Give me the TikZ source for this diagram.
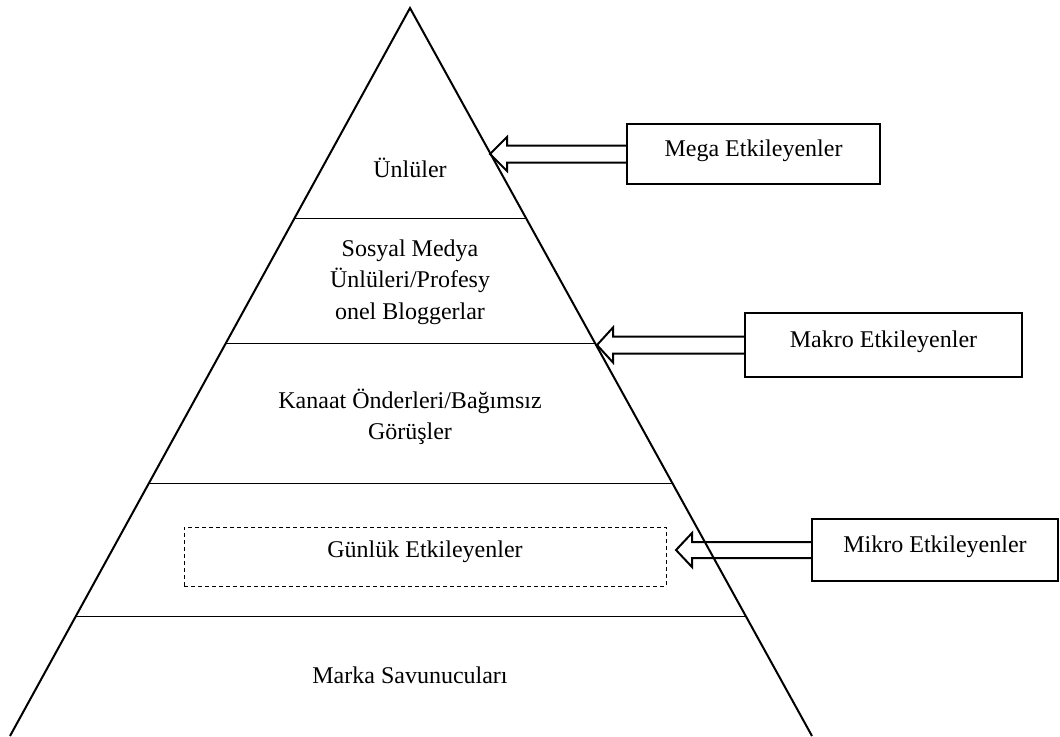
\documentclass[tikz,border=0pt]{standalone}
\usepackage{fontspec}
\setmainfont{Liberation Serif}
\usetikzlibrary{calc}
\tikzset{
  sidebox/.style={draw,line width=1pt,minimum width=#1,minimum height=31pt,text height=8pt,text depth=6pt,inner sep=0pt},
  blockarrow/.style={line width=1pt,line join=miter},
  layer/.style={line width=0.5pt},
  txt/.style={align=center,font=\fontsize{12}{15.75}\selectfont}
}
\begin{document}
\begin{tikzpicture}[x=0.5pt,y=-0.5pt,font=\fontsize{12}{15.75}\selectfont]
\useasboundingbox(0,0)rectangle(1060,736);
% pyramid
\coordinate(top)at(410,8);\coordinate(bl)at(10,736);\coordinate(br)at(812,736);
\draw[line width=1pt](bl)--(top)--(br);
\draw[layer]($(top)!.2885!(bl)$)--($(top)!.2885!(br)$);
\draw[layer]($(top)!.4602!(bl)$)--($(top)!.4602!(br)$);
\draw[layer]($(top)!.6525!(bl)$)--($(top)!.6525!(br)$);
\draw[layer]($(top)!.8365!(bl)$)--($(top)!.8365!(br)$);
% layer texts
\node[txt](unl)at(410,168){Ünlüler};
\node[txt](sos)at(410,282){Sosyal Medya\\Ünlüleri/Profesy\\onel Bloggerlar};
\node[txt](kan)at(410,417){Kanaat Önderleri/Bağımsız\\Görüşler};
\node[draw,dashed,dash pattern=on 2pt off 1.5pt,line width=0.5pt,minimum width=241pt,minimum height=29.5pt,text height=8pt,text depth=7pt](gun)at(425,556.5){Günlük Etkileyenler};
\node[txt](mar)at(410,675){Marka Savunucuları};
% side boxes
\node[sidebox=126.5pt,minimum height=30pt](mega)at(753.5,154){Mega Etkileyenler};
\node[sidebox=138.5pt,minimum height=32pt](makro)at(883.5,345){Makro Etkileyenler};
\node[sidebox=123pt](mikro)at(935,550){Mikro Etkileyenler};
\coordinate(megatip)at(490,154);\coordinate(makrotip)at(597,345);\coordinate(mikrotip)at(676,550);
\draw[blockarrow]($(mega.west)+(0,-8.5)$)--($(megatip)+(17,-8.5)$)--($(megatip)+(17,-17)$)--(megatip)--($(megatip)+(17,17)$)--($(megatip)+(17,8.5)$)--($(mega.west)+(0,8.5)$);
\draw[blockarrow]($(makro.west)+(0,-8.5)$)--($(makrotip)+(16,-8.5)$)--($(makrotip)+(16,-17.5)$)--(makrotip)--($(makrotip)+(16,17.5)$)--($(makrotip)+(16,8.5)$)--($(makro.west)+(0,8.5)$);
\draw[blockarrow]($(mikro.west)+(0,-8)$)--($(mikrotip)+(16,-8)$)--($(mikrotip)+(16,-17)$)--(mikrotip)--($(mikrotip)+(16,17)$)--($(mikrotip)+(16,8)$)--($(mikro.west)+(0,8)$);
\end{tikzpicture}
\end{document}
